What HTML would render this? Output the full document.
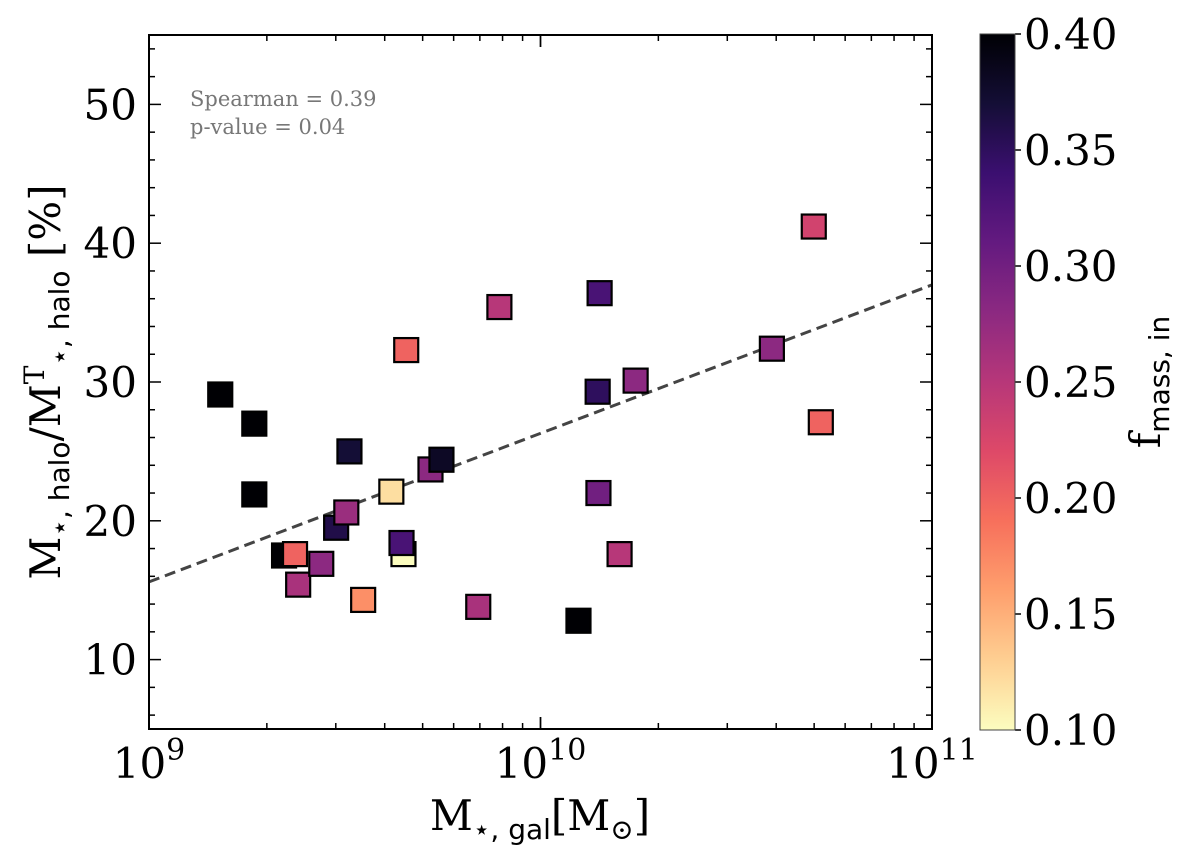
<!DOCTYPE html>
<html><head><meta charset="utf-8"><style>
body{margin:0;background:#fff}
svg text{font-family:"DejaVu Serif","Liberation Serif",serif}
</style></head><body>
<svg id="chart" width="1200" height="860" xmlns="http://www.w3.org/2000/svg">
<defs>
<linearGradient id="cg" x1="0" y1="1" x2="0" y2="0">
<stop offset="0" stop-color="#fcfdbf"/><stop offset="0.1" stop-color="#fecf92"/><stop offset="0.2" stop-color="#fe9f6d"/><stop offset="0.3" stop-color="#f7705c"/><stop offset="0.4" stop-color="#de4968"/><stop offset="0.5" stop-color="#b73779"/><stop offset="0.6" stop-color="#8c2981"/><stop offset="0.7" stop-color="#641a80"/><stop offset="0.8" stop-color="#3b0f70"/><stop offset="0.9" stop-color="#140e36"/><stop offset="1" stop-color="#000004"/>
</linearGradient>
</defs>
<g id="marks"></g>
<g id="axes"></g>
<text x="190" y="106" font-size="21" fill="#777">Spearman = 0.39</text>
<text x="190" y="134" font-size="21" fill="#777">p-value = 0.04</text>
<text x="540" y="830" font-size="42" text-anchor="middle">M<tspan font-size="28" dy="9" font-family="DejaVu Sans">⋆, gal</tspan><tspan dy="-9">[M</tspan><tspan font-size="28" dy="9">⊙</tspan><tspan dy="-9">]</tspan></text>
<text transform="translate(60,382) rotate(-90)" font-size="42" text-anchor="middle">M<tspan font-size="28" dy="9" font-family="DejaVu Sans">⋆, halo</tspan><tspan dy="-9">/M</tspan><tspan font-size="28" dy="-16">T</tspan><tspan font-size="28" dy="25" font-family="DejaVu Sans">⋆, halo</tspan><tspan dy="-9"> [%]</tspan></text>
<rect x="980" y="34" width="35" height="696" fill="url(#cg)" stroke="#444" stroke-width="1"/>
<text transform="translate(1160,382) rotate(-90)" font-size="42" text-anchor="middle">f<tspan font-size="28" dy="9" font-family="DejaVu Sans">mass, in</tspan></text>
</svg>
<script>
const logMass=[9.182,9.269,9.269,9.345,9.373,9.381,9.440,9.478,9.504,9.512,9.547,9.619,9.650,9.645,9.657,9.719,9.747,9.841,9.895,10.097,10.146,10.151,10.148,10.202,10.243,10.591,10.698,10.716];
const haloFrac=[29.1,27.0,21.9,17.5,17.6,15.4,16.9,19.5,20.6,25.0,14.3,22.1,17.6,18.4,32.3,23.7,24.4,13.8,35.4,12.8,29.3,36.4,22.0,17.6,30.1,32.4,41.2,27.1];
const fMass=[0.40,0.40,0.40,0.40,0.20,0.26,0.28,0.36,0.27,0.37,0.17,0.12,0.10,0.33,0.20,0.28,0.38,0.26,0.25,0.40,0.35,0.33,0.30,0.25,0.28,0.28,0.23,0.20];
const fitIntercept=15.6, fitSlope=10.7;
const yTicks=[10,20,30,40,50];
const cbTicks=[0.10,0.15,0.20,0.25,0.30,0.35,0.40];
const xDecades=[9,10,11];
const NS="http://www.w3.org/2000/svg";
const X0=149,X1=932,Y0=35,Y1=729;
const xs=l=>X0+(l-9)/2*(X1-X0);
const ys=v=>Y1-(v-5)/50*(Y1-Y0);
const cbY=v=>730-(v-0.1)/0.3*696;
const stops=["#fcfdbf","#fecf92","#fe9f6d","#f7705c","#de4968","#b73779","#8c2981","#641a80","#3b0f70","#140e36","#000004"];
function hx(c){return [1,3,5].map(i=>parseInt(c.substr(i,2),16));}
function cmap(v){let t=Math.max(0,Math.min(1,(v-0.1)/0.3))*10;let i=Math.min(9,Math.floor(t)),f=t-i;let a=hx(stops[i]),b=hx(stops[i+1]);return "rgb("+a.map((x,k)=>Math.round(x+(b[k]-x)*f)).join(",")+")";}
function mk(tag,at,parent){const e=document.createElementNS(NS,tag);for(const k in at)e.setAttribute(k,at[k]);parent.appendChild(e);return e;}
const marks=document.getElementById('marks'),axes=document.getElementById('axes');
const ln=mk('line',{x1:xs(9),y1:ys(fitIntercept),x2:xs(11),y2:ys(fitIntercept+2*fitSlope),stroke:'#444','stroke-width':3,'stroke-dasharray':'11,6'},marks);


logMass.forEach((l,i)=>{const s=24;const r=mk('rect',{x:xs(l)-s/2,y:ys(haloFrac[i])-s/2,width:s,height:s,fill:cmap(fMass[i]),stroke:'#000','stroke-width':2.2},marks);

});
const fr=mk('rect',{x:X0,y:Y0,width:X1-X0,height:Y1-Y0,fill:'none',stroke:'#000','stroke-width':2},axes);


for(let v=6;v<=54;v+=2){const y=ys(v),L=(v%10===0)?12:6;mk('line',{x1:X0,y1:y,x2:X0+L,y2:y,stroke:'#000','stroke-width':1.5},axes);mk('line',{x1:X1,y1:y,x2:X1-L,y2:y,stroke:'#000','stroke-width':1.5},axes);}
yTicks.forEach(v=>{const t=mk('text',{x:X0-12,y:ys(v)+15,'font-size':42,'text-anchor':'end'},axes);t.textContent=v;

});
for(let d=9;d<11;d++)for(let m=1;m<=10;m++){const x=xs(d+Math.log10(m)),L=(m===1||m===10)?12:6;mk('line',{x1:x,y1:Y1,x2:x,y2:Y1-L,stroke:'#000','stroke-width':1.5},axes);mk('line',{x1:x,y1:Y0,x2:x,y2:Y0+L,stroke:'#000','stroke-width':1.5},axes);}
xDecades.forEach(d=>{const t=mk('text',{x:xs(d),y:778,'font-size':42,'text-anchor':'middle'},axes);t.innerHTML='10<tspan font-size="30" dy="-18">'+d+'</tspan>';

});
cbTicks.forEach(v=>{const y=cbY(v);mk('line',{x1:1015,y1:y,x2:1021,y2:y,stroke:'#000','stroke-width':1.5},axes);const t=mk('text',{x:1024,y:y+15,'font-size':42},axes);t.textContent=v.toFixed(2);

});
</script>
</body></html>
